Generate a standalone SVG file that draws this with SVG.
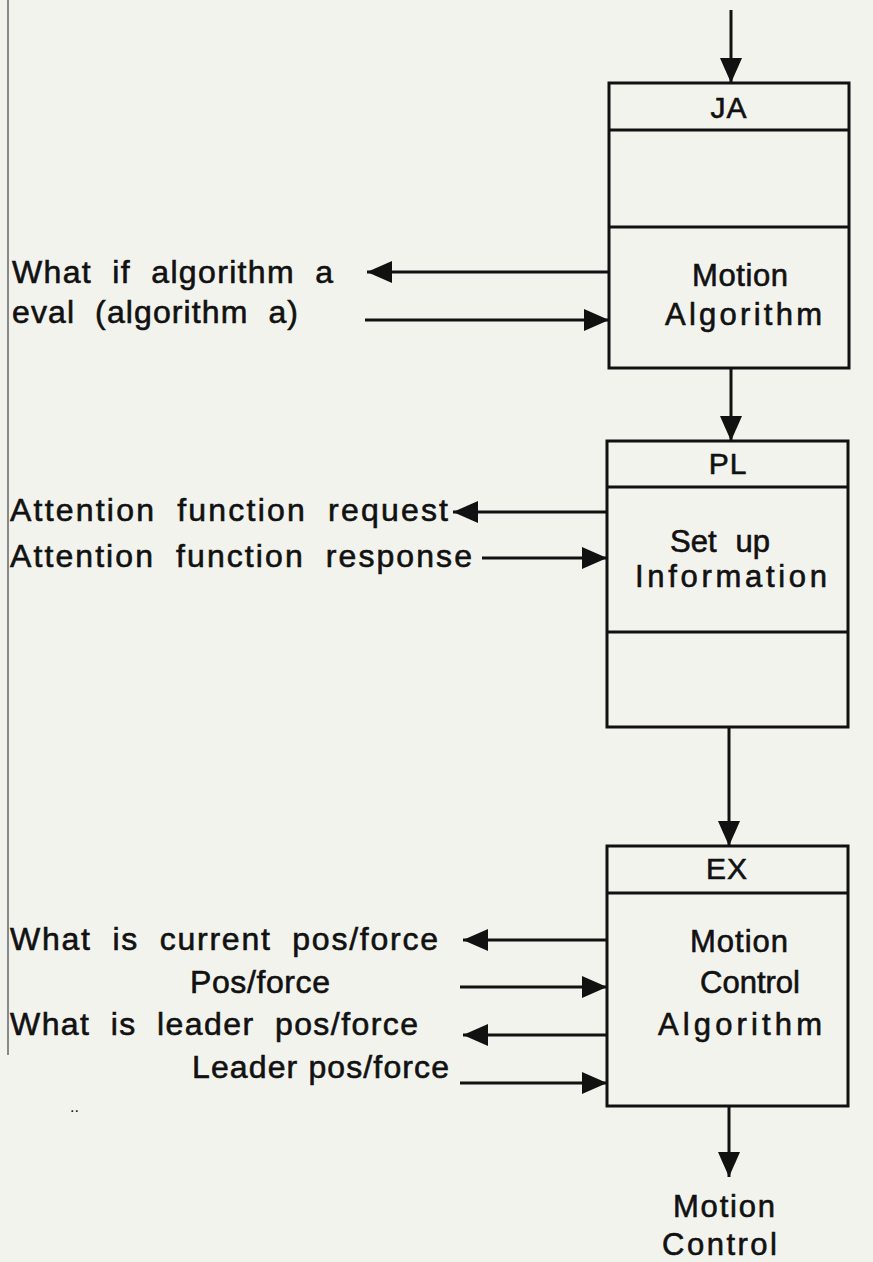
<svg xmlns="http://www.w3.org/2000/svg" width="873" height="1262" viewBox="0 0 873 1262">
<style>
.box{fill:none;stroke:#111;stroke-width:3}
.ln{stroke:#111;stroke-width:3;fill:none}
.t{font-family:"Liberation Sans",Arial,Helvetica,sans-serif;font-size:32px;fill:#111;stroke:#111;stroke-width:0.6px}
.w{word-spacing:10px}
.b{font-size:31px}
.c{text-anchor:middle}
.h{font-size:30px;letter-spacing:1px}
</style>
<defs>
<marker id="ah" viewBox="0 0 25 22" refX="25" refY="11" markerWidth="25" markerHeight="22" markerUnits="userSpaceOnUse" orient="auto">
<path d="M0,0 L25,11 L0,22 Z" fill="#111"/>
</marker>
</defs>
<rect width="873" height="1262" fill="#f3f3ee"/>
<line x1="8" y1="0" x2="8" y2="1055" stroke="#888" stroke-width="2"/>

<g id="JA">
<rect class="box" x="609" y="83" width="240" height="285"/>
<line class="ln" x1="609" y1="130" x2="849" y2="130"/>
<line class="ln" x1="609" y1="227" x2="849" y2="227"/>
<text class="t h c" x="729" y="118">JA</text>
<text class="t b" x="692" y="286" textLength="96" lengthAdjust="spacing">Motion</text>
<text class="t b" x="665" y="325" textLength="157" lengthAdjust="spacing">Algorithm</text>
</g>

<g id="PL">
<rect class="box" x="607" y="441" width="241" height="286"/>
<line class="ln" x1="607" y1="487" x2="848" y2="487"/>
<line class="ln" x1="607" y1="632" x2="848" y2="632"/>
<text class="t h c" x="728" y="474">PL</text>
<text class="t b w" x="670" y="552" textLength="100" lengthAdjust="spacing">Set up</text>
<text class="t b" x="635" y="587" textLength="192" lengthAdjust="spacing">Information</text>
</g>

<g id="EX">
<rect class="box" x="607" y="846" width="241" height="260"/>
<line class="ln" x1="607" y1="893" x2="848" y2="893"/>
<text class="t h c" x="727" y="879">EX</text>
<text class="t b" x="690" y="952" textLength="98" lengthAdjust="spacing">Motion</text>
<text class="t b" x="700" y="993" textLength="100" lengthAdjust="spacing">Control</text>
<text class="t b" x="658" y="1035" textLength="164" lengthAdjust="spacing">Algorithm</text>
</g>

<g id="output">
<text class="t b" x="673" y="1217" textLength="102" lengthAdjust="spacing">Motion</text>
<text class="t b" x="662" y="1255" textLength="115" lengthAdjust="spacing">Control</text>
</g>

<g id="labels">
<text class="t w" x="12" y="283" textLength="321" lengthAdjust="spacing">What if algorithm a</text>
<text class="t w" x="12" y="323" textLength="286" lengthAdjust="spacing">eval (algorithm a)</text>
<text class="t w" x="10" y="521" textLength="438" lengthAdjust="spacing">Attention function request</text>
<text class="t w" x="10" y="567" textLength="462" lengthAdjust="spacing">Attention function response</text>
<text class="t w" x="10" y="950" textLength="428" lengthAdjust="spacing">What is current pos/force</text>
<text class="t" x="190" y="993" textLength="140" lengthAdjust="spacing">Pos/force</text>
<text class="t w" x="10" y="1035" textLength="408" lengthAdjust="spacing">What is leader pos/force</text>
<text class="t" x="192" y="1078" textLength="257" lengthAdjust="spacing">Leader pos/force</text>
<text x="70" y="1112" style="font-family:'Liberation Sans',sans-serif;font-size:16px;fill:#111">..</text>
</g>

<g id="connectors">
<line class="ln" x1="731" y1="10" x2="731" y2="83" marker-end="url(#ah)"/>
<line class="ln" x1="731" y1="368" x2="731" y2="441" marker-end="url(#ah)"/>
<line class="ln" x1="729" y1="727" x2="729" y2="846" marker-end="url(#ah)"/>
<line class="ln" x1="729" y1="1106" x2="729" y2="1177" marker-end="url(#ah)"/>
<line class="ln" x1="609" y1="272" x2="367" y2="272" marker-end="url(#ah)"/>
<line class="ln" x1="365" y1="320" x2="609" y2="320" marker-end="url(#ah)"/>
<line class="ln" x1="607" y1="512" x2="453" y2="512" marker-end="url(#ah)"/>
<line class="ln" x1="482" y1="558" x2="607" y2="558" marker-end="url(#ah)"/>
<line class="ln" x1="607" y1="940" x2="463" y2="940" marker-end="url(#ah)"/>
<line class="ln" x1="460" y1="987" x2="607" y2="987" marker-end="url(#ah)"/>
<line class="ln" x1="607" y1="1035" x2="463" y2="1035" marker-end="url(#ah)"/>
<line class="ln" x1="460" y1="1083" x2="607" y2="1083" marker-end="url(#ah)"/>
</g>
</svg>
